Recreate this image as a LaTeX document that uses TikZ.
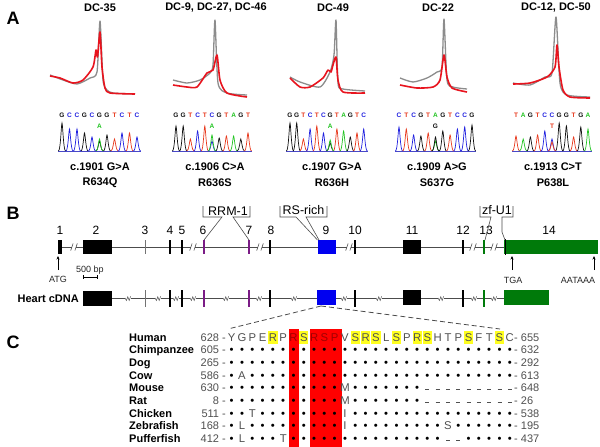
\documentclass[tikz,border=0pt]{standalone}
\usepackage{fontspec}
\setmainfont{Liberation Sans}
\usetikzlibrary{arrows.meta}
\definecolor{nA}{HTML}{22C422}
\definecolor{nC}{HTML}{2020E0}
\definecolor{nG}{HTML}{111111}
\definecolor{nT}{HTML}{E83A1E}
\definecolor{gcurve}{HTML}{8C8C8C}
\definecolor{rcurve}{HTML}{E8141E}
\definecolor{exgreen}{HTML}{007A0A}
\definecolor{exblue}{HTML}{0000F0}
\definecolor{expurple}{HTML}{7B1C86}
\definecolor{hlyel}{HTML}{FFFF20}
\definecolor{boxred}{HTML}{FF0000}
\definecolor{resgray}{HTML}{505050}
\definecolor{hred}{HTML}{A00000}
\definecolor{basecol}{HTML}{4848C8}
\newcommand\chrpeak[3]{\draw[#3,line width=0.7pt] ({#1-3.6},151) .. controls ({#1-1.4},151) and ({#1-0.7},{151-#2}) .. ({#1},{151-#2}) .. controls ({#1+0.7},{151-#2}) and ({#1+1.4},151) .. ({#1+3.6},151);}
\newcommand\alres[1]{\if o#1\textcolor{black}{\textbullet}\else\if d#1\rule[2pt]{4pt}{0.7pt}\else#1\fi\fi}
\newcommand\alrow[3]{\foreach \r [count=\i from 0] in {#3} {\node[resn] (#1-\i) at ({231.7+\i*10.3},#2+4) {\alres{\r}};}}
\tikzset{
  plabel/.style={font=\bfseries\fontsize{18}{20}\selectfont, inner sep=0},
  ttl/.style={font=\bfseries\fontsize{11}{13}\selectfont, inner sep=0},
  seqlet/.style={font=\bfseries\fontsize{6.5}{7}\selectfont, inner sep=0},
  gcur/.style={gcurve, line width=1.3pt, line join=round},
  rcur/.style={rcurve, line width=1.6pt, line join=round},
  exnum/.style={font=\fontsize{12}{14}\selectfont, inner sep=0},
  domlab/.style={font=\fontsize{12.5}{14}\selectfont, inner sep=0},
  smalltxt/.style={font=\fontsize{9}{10}\selectfont, inner sep=0, text=black!85},
  gline/.style={draw=black!70, line width=0.6pt},
  upar/.style={-{Stealth[length=3.5pt,width=3pt]}, line width=0.6pt},
  spname/.style={font=\bfseries\fontsize{11}{13}\selectfont, inner sep=0, anchor=base west},
  resn/.style={font=\fontsize{11.3}{13}\selectfont, inner sep=0, anchor=base, text=resgray},
  posn/.style={font=\fontsize{11}{13}\selectfont, inner sep=0, text=resgray},
}
\begin{document}
\begin{tikzpicture}[x=1pt,y=-1pt]
\useasboundingbox[fill=white] (0,0) rectangle (600,447);
% ---------------- Panel A
\node[plabel] (labA) at (13,18) {A};
\node[ttl] (t1) at (100,8) {DC-35};
\node[ttl] (t2) at (216,8) {DC-9, DC-27, DC-46};
\node[ttl] (t3) at (333,8) {DC-49};
\node[ttl] (t4) at (438,8) {DC-22};
\node[ttl] (t5) at (556,8) {DC-12, DC-50};
% melting curves
\draw[gcur] plot[smooth,tension=0.4] coordinates {(50,75) (63,80) (77,84) (90,78) (97,72) (100,21) (103,80) (107,90) (113,93) (135,94)};
\draw[rcur] plot[smooth,tension=0.4] coordinates {(50,76) (60,78) (73,83) (83,80) (93,67) (96,50) (97.5,57) (100,32) (102,67) (105,88) (110,93) (135,94)};
\draw[gcur] plot[smooth,tension=0.4] coordinates {(173,80) (187,83) (200,80) (210,73) (213,65) (215,20) (218,83) (227,93) (247,95)};
\draw[rcur] plot[smooth,tension=0.4] coordinates {(173,85) (187,87) (197,87) (207,73) (213,70) (217,55) (220,80) (227,93) (247,97)};
\draw[gcur] plot[smooth,tension=0.4] coordinates {(290,77) (300,82) (320,87) (330,72) (334,55) (336,20) (338,83) (343,89) (365,91)};
\draw[rcur] plot[smooth,tension=0.4] coordinates {(290,78) (300,87) (310,87) (323,78) (328,70) (331,72) (333,65) (336,57) (338,80) (343,92) (365,93)};
\draw[gcur] plot[smooth,tension=0.4] coordinates {(400,78) (413,82) (427,78) (437,72) (442,67) (444,19) (447,80) (453,87) (467,89)};
\draw[rcur] plot[smooth,tension=0.4] coordinates {(400,85) (417,88) (433,87) (440,80) (444,55) (447,77) (452,88) (467,92)};
\draw[gcur] plot[smooth,tension=0.4] coordinates {(513,83) (530,85) (545,77) (552,73) (556,17) (560,83) (567,95) (590,97)};
\draw[rcur] plot[smooth,tension=0.4] coordinates {(513,84) (530,83) (547,77) (555,67) (557,45) (559,67) (563,90) (570,97) (590,98)};
% chromatograms
\draw[basecol,line width=0.8pt] (58,151) -- (141,151);
\foreach \l/\c/\h [count=\i from 0] in {G/nG/28,C/nC/22,C/nC/22,G/nG/18,C/nC/14,G/nG/10,G/nG/16,T/nT/12,C/nC/18,T/nT/18,C/nC/14}
  {\node[seqlet,text=\c] (sa\i) at ({62+\i*7.5},115) {\l}; \chrpeak{62+\i*7.5}{\h}{\c}}
\chrpeak{99.5}{12}{nA}
\node[seqlet,text=nA] (ma) at (99.5,126) {A};
\draw[basecol,line width=0.8pt] (172,151) -- (252,151);
\foreach \l/\c/\h [count=\i from 0] in {G/nG/25,G/nG/25,T/nT/12,C/nC/20,T/nT/25,C/nC/10,G/nG/13,T/nT/15,A/nA/15,G/nG/12,T/nT/18}
  {\node[seqlet,text=\c] (sb\i) at ({176+\i*7.2},115) {\l}; \chrpeak{176+\i*7.2}{\h}{\c}}
\chrpeak{212}{16}{nA}
\node[seqlet,text=nA] (mb) at (212,126) {A};
\draw[basecol,line width=0.8pt] (286,151) -- (368,151);
\foreach \l/\c/\h [count=\i from 0] in {G/nG/28,G/nG/28,T/nT/12,C/nC/22,T/nT/25,C/nC/18,G/nG/8,T/nT/22,A/nA/20,G/nG/14,T/nT/18,C/nC/22}
  {\node[seqlet,text=\c] (sc\i) at ({290+\i*6.7},115) {\l}; \chrpeak{290+\i*6.7}{\h}{\c}}
\chrpeak{330.2}{11}{nA}
\node[seqlet,text=nA] (mc) at (330.2,126) {A};
\draw[basecol,line width=0.8pt] (395,151) -- (476,151);
\foreach \l/\c/\h [count=\i from 0] in {C/nC/24,T/nT/22,C/nC/16,G/nG/15,T/nT/18,A/nA/10,G/nG/20,T/nT/16,C/nC/22,C/nC/24,G/nG/26}
  {\node[seqlet,text=\c] (sd\i) at ({399+\i*7.3},115) {\l}; \chrpeak{399+\i*7.3}{\h}{\c}}
\chrpeak{435.5}{14}{nG}
\node[seqlet,text=nG] (md) at (435.5,126) {G};
\draw[basecol,line width=0.8pt] (512,151) -- (592,151);
\foreach \l/\c/\h [count=\i from 0] in {T/nT/15,A/nA/12,G/nG/14,T/nT/16,C/nC/20,C/nC/12,G/nG/28,G/nG/25,T/nT/14,G/nG/24,A/nA/22}
  {\node[seqlet,text=\c] (se\i) at ({516+\i*7.2},115) {\l}; \chrpeak{516+\i*7.2}{\h}{\c}}
\chrpeak{552}{9}{nT}
\node[seqlet,text=nT] (me) at (552,126) {T};
% mutation labels
\node[ttl] (c1) at (100,167) {c.1901 G>A};
\node[ttl] (p1) at (100,183) {R634Q};
\node[ttl] (c2) at (215,167) {c.1906 C>A};
\node[ttl] (p2) at (215,183) {R636S};
\node[ttl] (c3) at (332,167) {c.1907 G>A};
\node[ttl] (p3) at (332,183) {R636H};
\node[ttl] (c4) at (437,167) {c.1909 A>G};
\node[ttl] (p4) at (437,183) {S637G};
\node[ttl] (c5) at (553,167) {c.1913 C>T};
\node[ttl] (p5) at (553,183) {P638L};
% ---------------- Panel B
\node[plabel] (labB) at (13,213) {B};
\draw[gline] (58,247) -- (598,247);
\fill[black] (57.5,240) rectangle (61.5,254);
\fill[black] (83,240) rectangle (112,254);
\draw[black!55,line width=0.6pt] (145,240) -- (145,254);
\foreach \t in {170,182,270,355,463} \draw[black,line width=1.3pt] (\t,240) -- (\t,254);
\foreach \t in {204,249} \draw[expurple,line width=2.2pt] (\t,240) -- (\t,254);
\draw[exgreen,line width=1.5pt] (484,240) -- (484,254);
\fill[exblue] (318,240) rectangle (336,254);
\fill[black] (403,240) rectangle (421,254);
\fill[exgreen] (504,240) rectangle (598,254);
\draw[black,line width=0.6pt] (505,239) -- (505,255);
\foreach \b in {74,193,260,349,473,494} {
  \fill[white] (\b-2,245) rectangle (\b+2,249);
  \draw[gline] (\b-3.3,250.5) -- (\b-0.9,243.5) (\b+0.9,250.5) -- (\b+3.3,243.5);}
\foreach \n/\x in {1/60,2/96,3/145,4/170,5/182,6/203,7/249,8/271,9/326,10/355,11/412,12/463,13/486,14/549}
  \node[exnum] (en\n) at (\x,230) {\n};
% domain brackets
\node[domlab] (rrm) at (228,211) {RRM-1};
\draw[gline] (203,206) -- (203,217) -- (222,217) -- (204,240);
\draw[gline] (250,206) -- (250,217) -- (233,217) -- (249,240);
\node[domlab] (rsr) at (303.5,210) {RS-rich};
\draw[gline] (280,206) -- (280,217) -- (296,217) -- (317.5,240);
\draw[gline] (327,206) -- (327,217) -- (306,217) -- (319,240);
\node[domlab] (zfu) at (497,210) {zf-U1};
\draw[gline] (480,206) -- (480,217) -- (491,217) -- (485,240);
\draw[gline] (513,206) -- (513,217) -- (502,217) -- (502,232) -- (505,240);
% arrows and scale
\coordinate (atgb) at (58,270); \coordinate (atgt) at (58,256);
\draw[upar] (atgb) -- (atgt);
\node[smalltxt] (atg) at (58,279) {ATG};
\node[smalltxt] (sb) at (90,270) {500 bp};
\draw[black,line width=0.6pt] (83,277) -- (97,277) (83,275) -- (83,279) (97,275) -- (97,279);
\coordinate (tgab) at (512,270); \coordinate (tgat) at (512,256);
\draw[upar] (tgab) -- (tgat);
\node[smalltxt] (tga) at (513,280) {TGA};
\coordinate (aatb) at (594,270); \coordinate (aatt) at (594,256);
\draw[upar] (aatb) -- (aatt);
\node[smalltxt] (aat) at (578,280) {AATAAA};
% heart cDNA
\node[ttl,anchor=east] (hc) at (79,299) {Heart cDNA};
\draw[gline] (112,298) -- (504,298);
\fill[black] (83,291) rectangle (112,306);
\draw[black!55,line width=0.6pt] (145,290) -- (145,307);
\foreach \t in {170,182,270,355,463} \draw[black,line width=1.3pt] (\t,290) -- (\t,307);
\foreach \t in {204,249} \draw[expurple,line width=2.2pt] (\t,290) -- (\t,307);
\draw[exgreen,line width=1.5pt] (484,290) -- (484,307);
\fill[exblue] (317,290) rectangle (336,305);
\fill[black] (403,290) rectangle (421,305);
\fill[exgreen] (504,290) rectangle (549,305);
\foreach \s in {128,158,176,193,226,259,294,344,379,441,474,494} {
  \fill[white] (\s-3,297) rectangle (\s+3,299);
  \draw[gline,line width=0.5pt] (\s-3,298) -- (\s-1.6,300.5) -- (\s-0.2,296.8) -- (\s+1.2,300.5) -- (\s+2.6,296.3);}
\coordinate (ex9b) at (321,306);
\coordinate (alL) at (228,329);
\coordinate (alR) at (500,329);
\draw[black!70,dashed,dash pattern=on 5pt off 3pt,line width=0.8pt] (ex9b) -- (alL) (ex9b) -- (alR);
% ---------------- Panel C
\node[plabel] (labC) at (13,342) {C};
\fill[boxred] (288.5,329) rectangle (299.2,447);
\fill[boxred] (309.5,329) rectangle (342,447);
\foreach \k in {5,8,13,14,15,17,19,20,24,27}
  \fill[hlyel] ({231.7+(\k-1)*10.3-4.6},330.5) rectangle ({231.7+(\k-1)*10.3+4.6},343.5);
\foreach \sp/\y/\a/\b [count=\j] in {Human/337/628/655,Chimpanzee/349.7/605/632,Dog/362.4/265/292,Cow/375.1/586/613,Mouse/387.8/630/648,Rat/400.5/8/26,Chicken/413.2/511/538,Zebrafish/425.9/168/195,Pufferfish/438.6/412/437}{
  \node[spname] (sp\j) at (129,\y+4) {\sp};
  \node[posn,anchor=base east] (st\j) at (226,\y+4) {\a\ -};
  \node[posn,anchor=base west] (en\j) at (514,\y+4) {-\ \b};}
\foreach \r/\c [count=\i from 0] in {Y/resgray,G/resgray,P/resgray,E/resgray,R/resgray,P/resgray,R/hred,S/resgray,R/hred,S/hred,P/hred,V/resgray,S/resgray,R/resgray,S/resgray,L/resgray,S/resgray,P/resgray,R/resgray,S/resgray,H/resgray,T/resgray,P/resgray,S/resgray,F/resgray,T/resgray,S/resgray,C/resgray}
  {\node[resn,text=\c] (hu\i) at ({231.7+\i*10.3},341) {\r};}
\alrow{chi}{349.7}{o,o,o,o,o,o,o,o,o,o,o,o,o,o,o,o,o,o,o,o,o,o,o,o,o,o,o,o}
\alrow{dog}{362.4}{o,o,o,o,o,o,o,o,o,o,o,o,o,o,o,o,o,o,o,o,o,o,o,o,o,o,o,o}
\alrow{cow}{375.1}{o,A,o,o,o,o,o,o,o,o,o,o,o,o,o,o,o,o,o,o,o,o,o,o,o,o,o,o}
\alrow{mou}{387.8}{o,o,o,o,o,o,o,o,o,o,o,M,o,o,o,o,o,o,o,d,d,d,d,d,d,d,d,d}
\alrow{rat}{400.5}{o,o,o,o,o,o,o,o,o,o,o,M,o,o,o,o,o,o,o,d,d,d,d,d,d,d,d,d}
\alrow{chk}{413.2}{o,o,T,o,o,o,o,o,o,o,o,I,o,o,o,o,o,o,o,o,o,o,o,o,o,o,o,o}
\alrow{zeb}{425.9}{o,L,o,o,o,o,o,o,o,o,o,I,o,o,o,o,o,o,o,o,o,S,o,o,o,o,o,o}
\alrow{puf}{438.6}{o,L,o,o,o,T,o,o,o,o,o,o,o,o,o,o,o,o,o,o,o,d,d,o,o,o,o,o}
\end{tikzpicture}
\end{document}
